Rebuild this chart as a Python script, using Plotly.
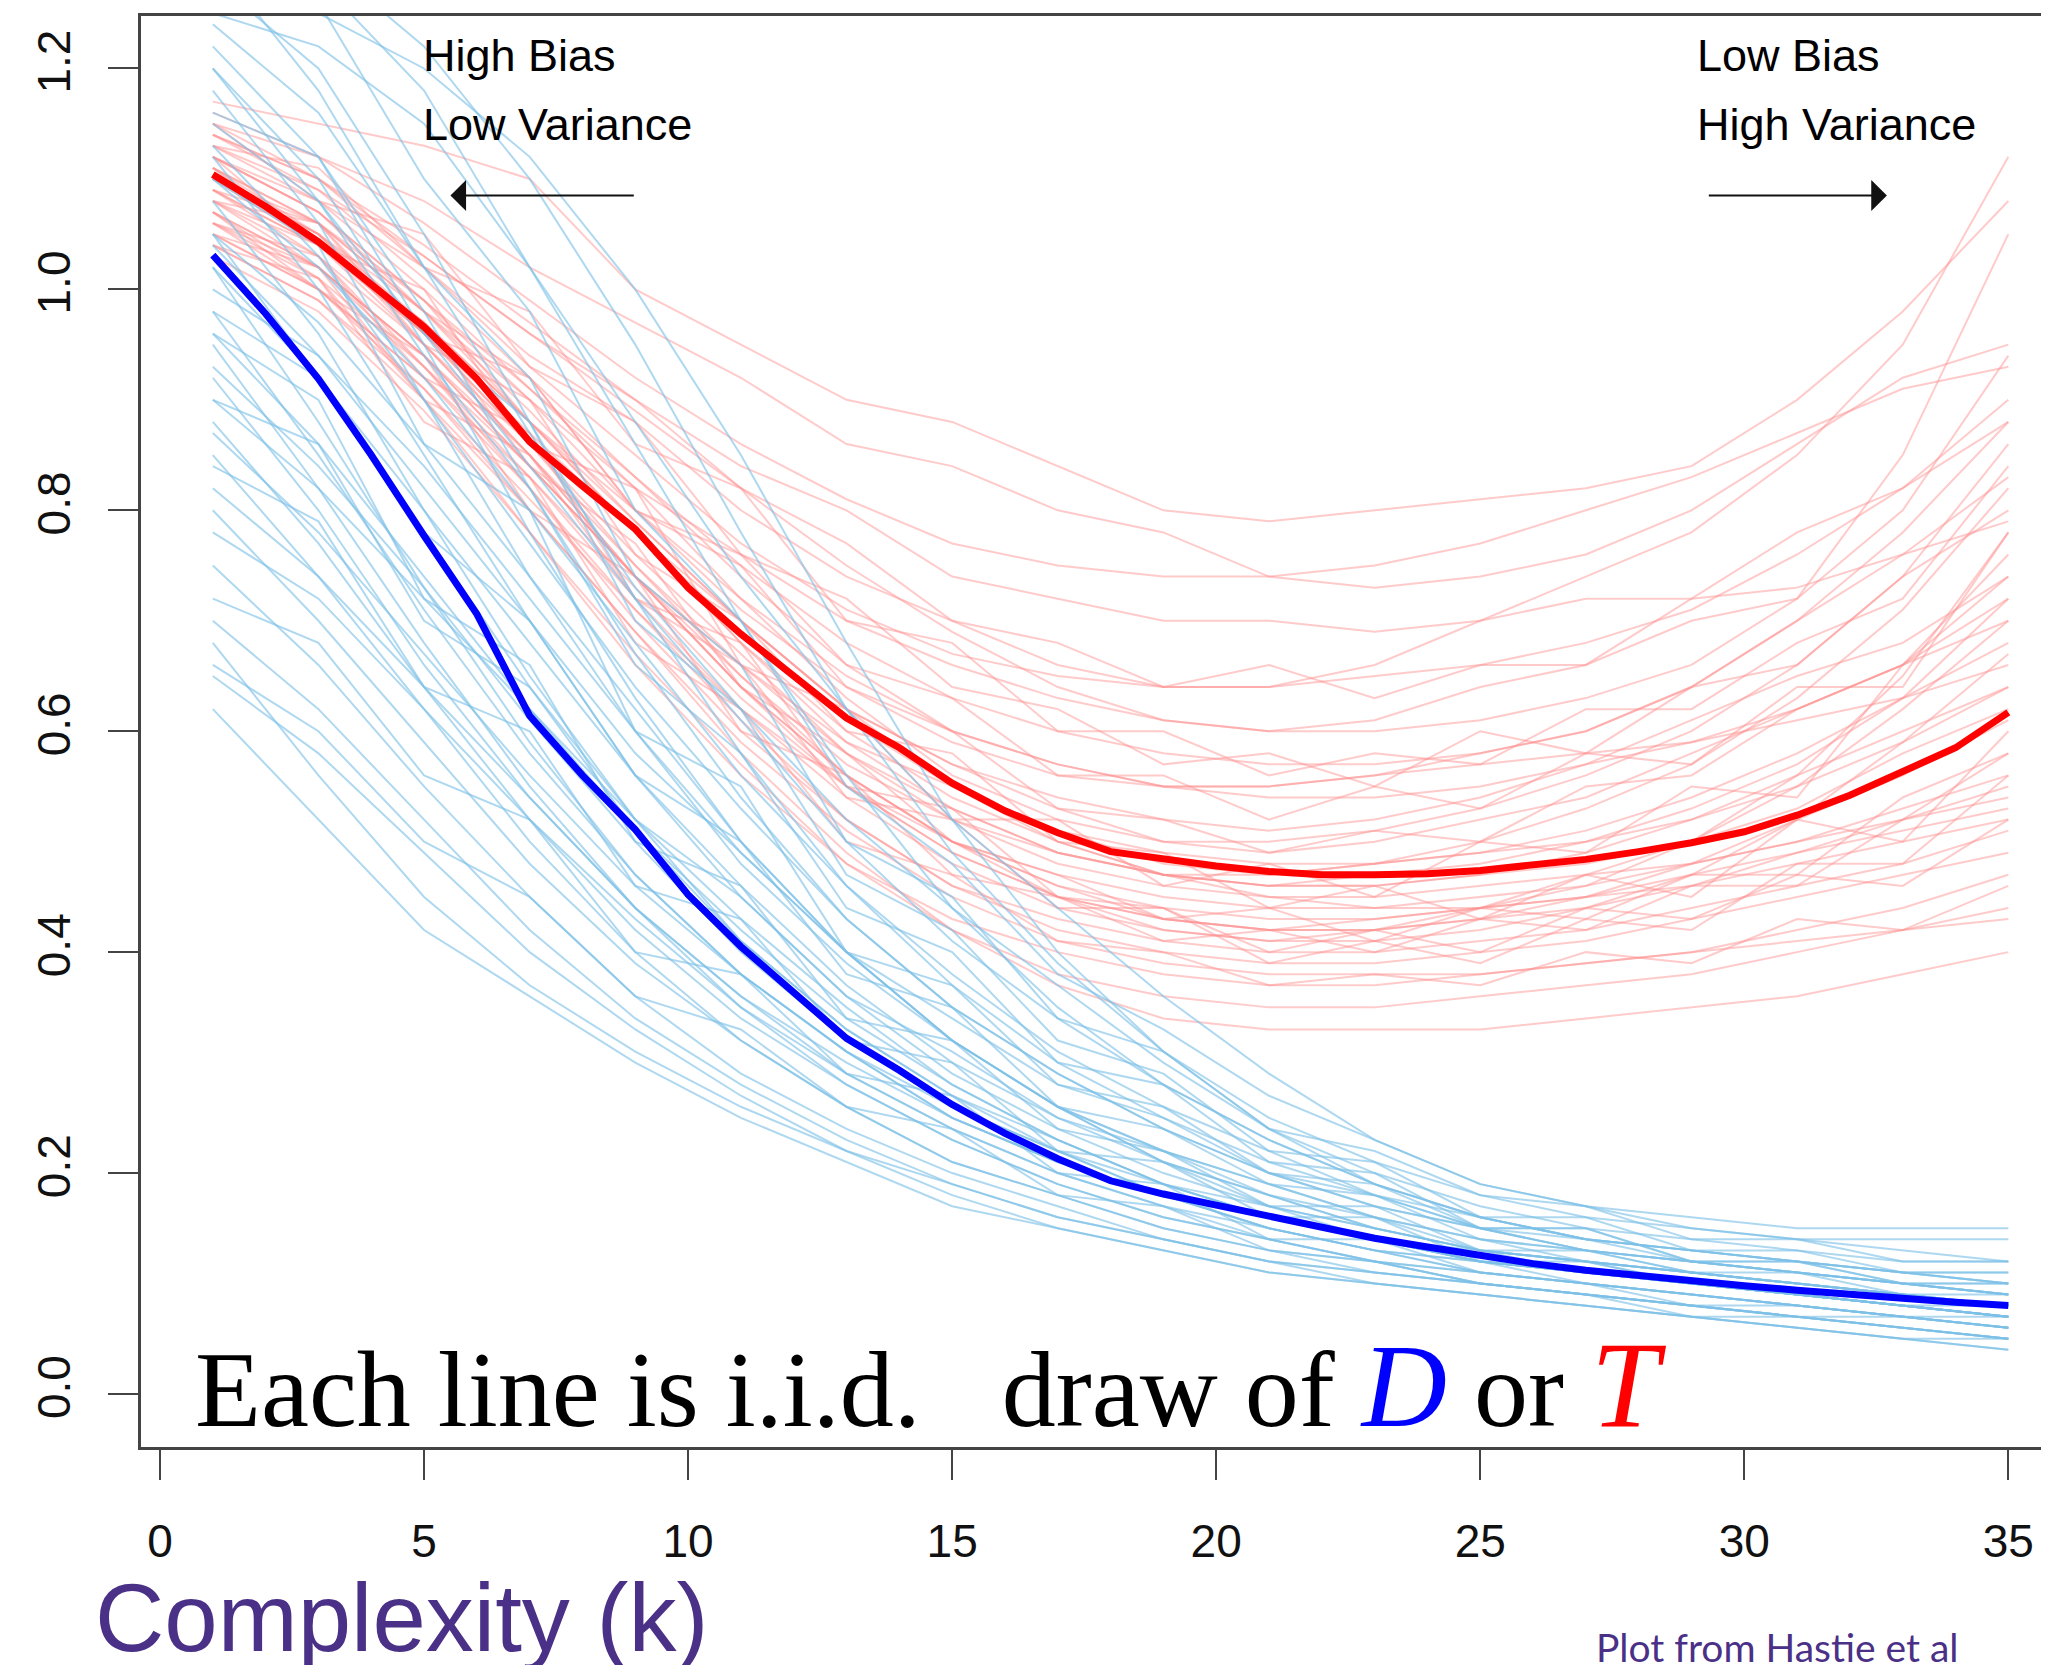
import plotly.graph_objects as go

# ---------------- data ----------------
k_all = list(range(1, 36))
k_grid = [1, 3, 5, 7, 9, 11, 13, 15, 17, 19, 21, 23, 25, 27, 29, 31, 33, 35]

test_mean = [1.104, 1.075, 1.043, 1.005, 0.966, 0.919, 0.862, 0.822, 0.783, 0.730,
             0.688, 0.650, 0.612, 0.585, 0.553, 0.528, 0.508, 0.491, 0.484, 0.478,
             0.473, 0.470, 0.470, 0.471, 0.474, 0.479, 0.484, 0.491, 0.499, 0.509,
             0.524, 0.542, 0.563, 0.585, 0.617]
train_mean = [1.031, 0.978, 0.919, 0.850, 0.777, 0.706, 0.614, 0.560, 0.511, 0.452,
              0.405, 0.364, 0.322, 0.293, 0.262, 0.236, 0.213, 0.193, 0.181, 0.171,
              0.161, 0.151, 0.141, 0.133, 0.125, 0.118, 0.112, 0.107, 0.102, 0.098,
              0.094, 0.090, 0.086, 0.083, 0.080]

test_draws = [
    [1.17, 1.15, 1.13, 1.10, 1.00, 0.95, 0.90, 0.88, 0.84, 0.80, 0.79, 0.80, 0.81, 0.82, 0.84, 0.90, 0.98, 1.08],
    [1.15, 1.12, 1.08, 1.02, 0.97, 0.92, 0.86, 0.84, 0.80, 0.78, 0.74, 0.73, 0.74, 0.76, 0.80, 0.86, 0.92, 0.95],
    [1.12, 1.08, 1.02, 0.94, 0.88, 0.80, 0.74, 0.70, 0.66, 0.64, 0.64, 0.66, 0.70, 0.74, 0.78, 0.85, 0.95, 1.12],
    [1.10, 1.06, 0.98, 0.90, 0.82, 0.76, 0.70, 0.66, 0.63, 0.61, 0.60, 0.61, 0.64, 0.66, 0.72, 0.78, 0.82, 0.88],
    [1.14, 1.10, 1.03, 0.96, 0.90, 0.84, 0.80, 0.74, 0.72, 0.70, 0.70, 0.69, 0.70, 0.72, 0.72, 0.73, 0.76, 0.79],
    [1.08, 1.04, 0.97, 0.88, 0.80, 0.72, 0.65, 0.60, 0.57, 0.55, 0.55, 0.56, 0.58, 0.60, 0.64, 0.70, 0.76, 0.83],
    [1.10, 1.05, 0.96, 0.86, 0.78, 0.70, 0.62, 0.57, 0.53, 0.50, 0.49, 0.50, 0.52, 0.54, 0.58, 0.62, 0.66, 0.72],
    [1.06, 1.02, 0.94, 0.84, 0.74, 0.66, 0.59, 0.55, 0.51, 0.48, 0.47, 0.48, 0.49, 0.50, 0.52, 0.55, 0.59, 0.64],
    [1.12, 1.07, 0.99, 0.88, 0.78, 0.68, 0.60, 0.54, 0.50, 0.47, 0.46, 0.46, 0.47, 0.48, 0.50, 0.53, 0.58, 0.62],
    [1.09, 1.03, 0.93, 0.82, 0.71, 0.62, 0.55, 0.50, 0.47, 0.45, 0.44, 0.44, 0.45, 0.46, 0.48, 0.50, 0.53, 0.56],
    [1.05, 1.00, 0.92, 0.82, 0.70, 0.60, 0.52, 0.46, 0.43, 0.41, 0.40, 0.40, 0.41, 0.42, 0.44, 0.46, 0.48, 0.51],
    [1.11, 1.05, 0.95, 0.85, 0.74, 0.64, 0.56, 0.50, 0.45, 0.42, 0.41, 0.42, 0.44, 0.47, 0.50, 0.55, 0.62, 0.70],
    [1.07, 1.01, 0.90, 0.78, 0.66, 0.56, 0.48, 0.43, 0.40, 0.38, 0.37, 0.37, 0.38, 0.39, 0.40, 0.42, 0.44, 0.47],
    [1.13, 1.08, 1.00, 0.91, 0.82, 0.72, 0.63, 0.56, 0.52, 0.50, 0.50, 0.51, 0.53, 0.56, 0.60, 0.66, 0.74, 0.80],
    [1.04, 0.99, 0.90, 0.80, 0.69, 0.58, 0.49, 0.42, 0.38, 0.36, 0.35, 0.35, 0.36, 0.37, 0.38, 0.40, 0.42, 0.44],
    [1.10, 1.04, 0.96, 0.87, 0.78, 0.69, 0.61, 0.55, 0.51, 0.49, 0.48, 0.48, 0.49, 0.51, 0.54, 0.58, 0.63, 0.68],
    [1.08, 1.03, 0.95, 0.86, 0.76, 0.67, 0.58, 0.52, 0.48, 0.46, 0.45, 0.45, 0.46, 0.47, 0.48, 0.50, 0.52, 0.54],
    [1.16, 1.12, 1.06, 0.99, 0.92, 0.86, 0.81, 0.77, 0.75, 0.74, 0.74, 0.75, 0.77, 0.80, 0.83, 0.87, 0.91, 0.93],
    [1.06, 1.00, 0.91, 0.80, 0.69, 0.59, 0.51, 0.45, 0.41, 0.39, 0.38, 0.38, 0.38, 0.39, 0.40, 0.41, 0.42, 0.43],
    [1.11, 1.06, 0.98, 0.89, 0.79, 0.70, 0.62, 0.57, 0.54, 0.52, 0.51, 0.52, 0.54, 0.57, 0.61, 0.65, 0.68, 0.74],
    [1.09, 1.04, 0.96, 0.86, 0.75, 0.65, 0.56, 0.50, 0.46, 0.43, 0.42, 0.42, 0.43, 0.44, 0.46, 0.49, 0.52, 0.58],
    [1.03, 0.98, 0.89, 0.78, 0.67, 0.57, 0.48, 0.42, 0.37, 0.34, 0.33, 0.33, 0.33, 0.34, 0.35, 0.36, 0.38, 0.40],
    [1.12, 1.07, 0.99, 0.90, 0.80, 0.71, 0.64, 0.59, 0.56, 0.55, 0.55, 0.56, 0.57, 0.58, 0.59, 0.61, 0.63, 0.66],
    [1.07, 1.02, 0.94, 0.85, 0.75, 0.66, 0.58, 0.53, 0.49, 0.47, 0.46, 0.47, 0.48, 0.50, 0.53, 0.57, 0.63, 0.72],
    [1.14, 1.09, 1.01, 0.92, 0.83, 0.74, 0.66, 0.60, 0.57, 0.55, 0.54, 0.54, 0.55, 0.57, 0.59, 0.62, 0.66, 0.70],
    [1.05, 1.00, 0.92, 0.83, 0.73, 0.63, 0.55, 0.49, 0.45, 0.43, 0.42, 0.43, 0.44, 0.46, 0.50, 0.56, 0.65, 0.78],
    [1.10, 1.05, 0.97, 0.88, 0.79, 0.70, 0.62, 0.55, 0.50, 0.47, 0.45, 0.44, 0.44, 0.45, 0.46, 0.48, 0.50, 0.52],
    [1.08, 1.02, 0.93, 0.83, 0.72, 0.62, 0.54, 0.48, 0.44, 0.42, 0.41, 0.41, 0.42, 0.44, 0.47, 0.52, 0.59, 0.67],
    [1.13, 1.09, 1.03, 0.96, 0.89, 0.82, 0.75, 0.69, 0.64, 0.61, 0.60, 0.60, 0.61, 0.63, 0.66, 0.72, 0.85, 1.05],
    [1.06, 1.01, 0.93, 0.84, 0.74, 0.64, 0.56, 0.50, 0.46, 0.44, 0.43, 0.43, 0.44, 0.45, 0.47, 0.49, 0.51, 0.53],
    [1.09, 1.04, 0.95, 0.85, 0.74, 0.64, 0.55, 0.49, 0.45, 0.43, 0.42, 0.42, 0.43, 0.45, 0.48, 0.52, 0.56, 0.61],
    [1.11, 1.06, 0.99, 0.91, 0.83, 0.75, 0.68, 0.63, 0.60, 0.58, 0.57, 0.57, 0.58, 0.60, 0.64, 0.70, 0.78, 0.88],
    [1.04, 0.99, 0.91, 0.81, 0.71, 0.61, 0.52, 0.46, 0.42, 0.40, 0.39, 0.39, 0.40, 0.41, 0.43, 0.45, 0.47, 0.49],
    [1.12, 1.07, 0.98, 0.88, 0.78, 0.68, 0.59, 0.53, 0.49, 0.47, 0.46, 0.46, 0.47, 0.49, 0.52, 0.56, 0.60, 0.64],
    [1.07, 1.02, 0.94, 0.84, 0.74, 0.65, 0.57, 0.52, 0.49, 0.47, 0.47, 0.48, 0.50, 0.53, 0.57, 0.63, 0.71, 0.82],
    [1.15, 1.10, 1.02, 0.93, 0.85, 0.77, 0.71, 0.67, 0.65, 0.64, 0.64, 0.65, 0.66, 0.68, 0.71, 0.76, 0.82, 0.90],
    [1.09, 1.06, 0.95, 0.90, 0.76, 0.70, 0.60, 0.58, 0.50, 0.49, 0.44, 0.46, 0.43, 0.47, 0.45, 0.52, 0.50, 0.60],
    [1.12, 1.04, 1.00, 0.86, 0.82, 0.66, 0.62, 0.52, 0.52, 0.46, 0.48, 0.45, 0.50, 0.49, 0.55, 0.54, 0.66, 0.74],
    [1.06, 1.03, 0.92, 0.87, 0.72, 0.68, 0.55, 0.53, 0.45, 0.44, 0.40, 0.42, 0.40, 0.44, 0.43, 0.47, 0.46, 0.52],
    [1.15, 1.08, 1.05, 0.93, 0.88, 0.76, 0.72, 0.64, 0.62, 0.57, 0.58, 0.55, 0.60, 0.58, 0.64, 0.66, 0.74, 0.86],
    [1.04, 1.01, 0.88, 0.83, 0.68, 0.62, 0.50, 0.47, 0.41, 0.40, 0.37, 0.38, 0.37, 0.40, 0.39, 0.43, 0.42, 0.46],
    [1.10, 1.05, 0.98, 0.92, 0.80, 0.75, 0.64, 0.60, 0.53, 0.52, 0.49, 0.51, 0.50, 0.55, 0.56, 0.62, 0.66, 0.76],
    [1.13, 1.11, 1.02, 0.98, 0.86, 0.82, 0.70, 0.68, 0.60, 0.60, 0.56, 0.58, 0.57, 0.62, 0.62, 0.68, 0.72, 0.84],
    [1.07, 1.00, 0.94, 0.80, 0.74, 0.60, 0.56, 0.47, 0.45, 0.41, 0.42, 0.40, 0.43, 0.42, 0.46, 0.46, 0.52, 0.55],
    [1.08, 1.06, 0.96, 0.92, 0.80, 0.76, 0.66, 0.63, 0.56, 0.56, 0.52, 0.55, 0.53, 0.58, 0.57, 0.64, 0.64, 0.78],
    [1.11, 1.04, 0.97, 0.84, 0.77, 0.64, 0.58, 0.50, 0.47, 0.43, 0.44, 0.41, 0.44, 0.43, 0.47, 0.47, 0.54, 0.58],
    [1.05, 1.02, 0.90, 0.85, 0.72, 0.66, 0.54, 0.52, 0.44, 0.44, 0.39, 0.41, 0.39, 0.43, 0.42, 0.48, 0.48, 0.56],
    [1.14, 1.10, 1.04, 0.97, 0.90, 0.82, 0.77, 0.70, 0.68, 0.64, 0.66, 0.63, 0.66, 0.66, 0.70, 0.72, 0.80, 0.94],
]

train_draws = [
    [1.32, 1.28, 1.18, 1.02, 0.86, 0.70, 0.56, 0.44, 0.35, 0.28, 0.23, 0.19, 0.16, 0.14, 0.13, 0.12, 0.11, 0.10],
    [1.28, 1.20, 1.05, 0.88, 0.72, 0.58, 0.46, 0.37, 0.30, 0.25, 0.21, 0.18, 0.16, 0.14, 0.13, 0.12, 0.11, 0.10],
    [1.22, 1.12, 0.98, 0.82, 0.67, 0.54, 0.43, 0.35, 0.29, 0.24, 0.20, 0.17, 0.15, 0.13, 0.12, 0.11, 0.10, 0.09],
    [1.18, 1.06, 0.90, 0.74, 0.60, 0.48, 0.39, 0.32, 0.26, 0.22, 0.19, 0.16, 0.14, 0.12, 0.11, 0.10, 0.09, 0.08],
    [1.12, 1.00, 0.85, 0.70, 0.56, 0.45, 0.36, 0.29, 0.24, 0.20, 0.17, 0.15, 0.13, 0.12, 0.11, 0.10, 0.09, 0.08],
    [1.08, 0.96, 0.80, 0.65, 0.52, 0.41, 0.33, 0.27, 0.22, 0.18, 0.16, 0.14, 0.12, 0.11, 0.10, 0.09, 0.08, 0.07],
    [1.05, 0.92, 0.78, 0.64, 0.51, 0.41, 0.33, 0.27, 0.23, 0.19, 0.17, 0.15, 0.13, 0.12, 0.11, 0.10, 0.09, 0.08],
    [1.02, 0.88, 0.73, 0.59, 0.47, 0.38, 0.31, 0.25, 0.21, 0.18, 0.15, 0.13, 0.12, 0.10, 0.09, 0.08, 0.07, 0.06],
    [0.98, 0.85, 0.71, 0.58, 0.47, 0.38, 0.31, 0.26, 0.22, 0.19, 0.16, 0.14, 0.13, 0.11, 0.10, 0.09, 0.08, 0.07],
    [0.95, 0.82, 0.68, 0.55, 0.44, 0.35, 0.28, 0.23, 0.19, 0.16, 0.14, 0.12, 0.10, 0.09, 0.08, 0.07, 0.06, 0.05],
    [0.92, 0.80, 0.66, 0.54, 0.44, 0.36, 0.29, 0.24, 0.20, 0.17, 0.15, 0.13, 0.11, 0.10, 0.09, 0.08, 0.07, 0.07],
    [0.88, 0.77, 0.64, 0.52, 0.42, 0.34, 0.28, 0.23, 0.19, 0.16, 0.14, 0.12, 0.11, 0.10, 0.09, 0.08, 0.07, 0.06],
    [0.85, 0.74, 0.62, 0.50, 0.40, 0.32, 0.26, 0.21, 0.18, 0.15, 0.13, 0.11, 0.10, 0.09, 0.08, 0.07, 0.06, 0.05],
    [0.80, 0.70, 0.59, 0.48, 0.39, 0.32, 0.26, 0.21, 0.18, 0.15, 0.13, 0.12, 0.10, 0.09, 0.08, 0.07, 0.07, 0.06],
    [0.75, 0.66, 0.55, 0.45, 0.36, 0.29, 0.24, 0.20, 0.17, 0.14, 0.12, 0.11, 0.10, 0.09, 0.08, 0.07, 0.06, 0.05],
    [0.70, 0.62, 0.52, 0.42, 0.34, 0.28, 0.23, 0.19, 0.16, 0.14, 0.12, 0.10, 0.09, 0.08, 0.07, 0.06, 0.05, 0.04],
    [0.65, 0.58, 0.49, 0.40, 0.33, 0.27, 0.22, 0.18, 0.15, 0.13, 0.11, 0.10, 0.09, 0.08, 0.07, 0.06, 0.05, 0.05],
    [0.62, 0.52, 0.42, 0.36, 0.30, 0.25, 0.21, 0.17, 0.15, 0.13, 0.11, 0.10, 0.09, 0.08, 0.07, 0.06, 0.05, 0.04],
    [1.35, 1.30, 1.22, 1.10, 0.95, 0.78, 0.62, 0.49, 0.39, 0.31, 0.25, 0.21, 0.18, 0.16, 0.15, 0.14, 0.14, 0.14],
    [1.25, 1.22, 1.15, 1.02, 0.88, 0.74, 0.62, 0.52, 0.44, 0.36, 0.29, 0.23, 0.19, 0.17, 0.16, 0.15, 0.15, 0.15],
    [1.30, 1.18, 1.02, 0.87, 0.73, 0.62, 0.52, 0.44, 0.37, 0.30, 0.24, 0.20, 0.17, 0.15, 0.14, 0.13, 0.12, 0.12],
    [1.15, 1.08, 0.96, 0.84, 0.72, 0.61, 0.50, 0.41, 0.34, 0.28, 0.23, 0.19, 0.16, 0.14, 0.13, 0.12, 0.11, 0.11],
    [1.10, 1.02, 0.92, 0.80, 0.68, 0.56, 0.46, 0.38, 0.31, 0.26, 0.22, 0.18, 0.15, 0.13, 0.12, 0.11, 0.10, 0.09],
    [1.00, 0.94, 0.84, 0.72, 0.60, 0.49, 0.40, 0.32, 0.26, 0.21, 0.17, 0.14, 0.12, 0.11, 0.10, 0.09, 0.08, 0.07],
    [0.96, 0.86, 0.74, 0.62, 0.51, 0.42, 0.34, 0.28, 0.23, 0.19, 0.16, 0.14, 0.12, 0.11, 0.10, 0.09, 0.08, 0.07],
    [0.90, 0.82, 0.72, 0.62, 0.52, 0.43, 0.35, 0.28, 0.23, 0.19, 0.16, 0.14, 0.12, 0.11, 0.10, 0.09, 0.08, 0.08],
    [1.20, 1.10, 0.95, 0.78, 0.63, 0.50, 0.40, 0.32, 0.26, 0.21, 0.18, 0.15, 0.13, 0.12, 0.11, 0.10, 0.09, 0.08],
    [1.05, 0.97, 0.86, 0.74, 0.62, 0.50, 0.40, 0.32, 0.26, 0.22, 0.19, 0.16, 0.14, 0.13, 0.12, 0.11, 0.10, 0.10],
    [0.87, 0.78, 0.67, 0.56, 0.46, 0.38, 0.31, 0.25, 0.21, 0.18, 0.15, 0.13, 0.11, 0.10, 0.09, 0.08, 0.07, 0.06],
    [0.78, 0.72, 0.62, 0.52, 0.43, 0.35, 0.29, 0.24, 0.20, 0.17, 0.14, 0.12, 0.11, 0.10, 0.09, 0.08, 0.07, 0.06],
    [1.28, 1.25, 1.20, 1.12, 1.00, 0.85, 0.68, 0.52, 0.40, 0.31, 0.24, 0.19, 0.16, 0.14, 0.13, 0.12, 0.11, 0.10],
    [0.68, 0.56, 0.45, 0.37, 0.31, 0.26, 0.22, 0.19, 0.16, 0.14, 0.12, 0.11, 0.10, 0.09, 0.08, 0.07, 0.06, 0.05],
    [1.13, 1.03, 0.90, 0.77, 0.64, 0.53, 0.43, 0.35, 0.29, 0.24, 0.20, 0.17, 0.15, 0.13, 0.12, 0.11, 0.10, 0.09],
    [0.93, 0.84, 0.73, 0.61, 0.50, 0.40, 0.32, 0.26, 0.22, 0.18, 0.15, 0.13, 0.12, 0.11, 0.10, 0.09, 0.08, 0.07],
    [1.02, 0.92, 0.80, 0.68, 0.56, 0.46, 0.37, 0.30, 0.25, 0.21, 0.18, 0.15, 0.13, 0.12, 0.11, 0.10, 0.09, 0.08],
    [0.82, 0.74, 0.64, 0.54, 0.44, 0.36, 0.30, 0.25, 0.21, 0.18, 0.16, 0.14, 0.12, 0.11, 0.10, 0.09, 0.08, 0.07],
    [1.10, 1.04, 0.86, 0.80, 0.60, 0.55, 0.40, 0.37, 0.28, 0.26, 0.20, 0.19, 0.15, 0.15, 0.12, 0.12, 0.10, 0.10],
    [0.96, 0.90, 0.72, 0.66, 0.50, 0.46, 0.34, 0.32, 0.24, 0.22, 0.17, 0.17, 0.13, 0.13, 0.11, 0.10, 0.09, 0.08],
    [1.24, 1.16, 1.02, 0.92, 0.74, 0.66, 0.50, 0.45, 0.34, 0.31, 0.24, 0.22, 0.18, 0.17, 0.14, 0.14, 0.12, 0.12],
    [0.84, 0.79, 0.64, 0.60, 0.46, 0.43, 0.32, 0.30, 0.22, 0.21, 0.16, 0.16, 0.12, 0.12, 0.10, 0.09, 0.08, 0.07],
    [1.16, 1.12, 0.96, 0.88, 0.70, 0.62, 0.47, 0.42, 0.32, 0.29, 0.22, 0.21, 0.16, 0.16, 0.13, 0.13, 0.11, 0.11],
    [0.72, 0.68, 0.56, 0.52, 0.40, 0.38, 0.29, 0.27, 0.20, 0.19, 0.14, 0.14, 0.11, 0.10, 0.08, 0.08, 0.07, 0.06],
    [1.04, 0.94, 0.82, 0.70, 0.58, 0.49, 0.40, 0.34, 0.28, 0.25, 0.20, 0.18, 0.15, 0.14, 0.12, 0.11, 0.10, 0.09],
    [0.90, 0.86, 0.70, 0.64, 0.52, 0.45, 0.36, 0.31, 0.25, 0.22, 0.18, 0.16, 0.13, 0.12, 0.10, 0.09, 0.08, 0.07],
    [1.30, 1.26, 1.10, 0.98, 0.80, 0.70, 0.55, 0.48, 0.38, 0.33, 0.27, 0.23, 0.19, 0.17, 0.15, 0.14, 0.13, 0.12],
    [0.66, 0.60, 0.50, 0.45, 0.36, 0.33, 0.26, 0.24, 0.18, 0.17, 0.13, 0.12, 0.10, 0.09, 0.07, 0.07, 0.06, 0.05],
    [1.20, 1.08, 0.94, 0.82, 0.66, 0.58, 0.44, 0.40, 0.30, 0.28, 0.21, 0.20, 0.15, 0.15, 0.12, 0.12, 0.10, 0.09],
    [0.98, 0.92, 0.78, 0.70, 0.56, 0.50, 0.38, 0.35, 0.26, 0.24, 0.19, 0.18, 0.14, 0.13, 0.11, 0.11, 0.09, 0.09],
]

x_ticks = [0, 5, 10, 15, 20, 25, 30, 35]
y_ticks = [0.0, 0.2, 0.4, 0.6, 0.8, 1.0, 1.2]
y_tick_text = ["0.0", "0.2", "0.4", "0.6", "0.8", "1.0", "1.2"]

# ---------------- figure ----------------
fig = go.Figure()

for d in test_draws:
    fig.add_trace(go.Scatter(x=k_grid, y=d, mode="lines",
                             line=dict(color="rgba(255,145,145,0.48)", width=2),
                             hoverinfo="skip", showlegend=False))
for d in train_draws:
    fig.add_trace(go.Scatter(x=k_grid, y=d, mode="lines",
                             line=dict(color="rgba(125,192,230,0.62)", width=2),
                             hoverinfo="skip", showlegend=False))

fig.add_trace(go.Scatter(x=k_all, y=test_mean, mode="lines",
                         line=dict(color="#ff0000", width=7), showlegend=False))
fig.add_trace(go.Scatter(x=k_all, y=train_mean, mode="lines",
                         line=dict(color="#0000ff", width=7), showlegend=False))

axis_font = dict(family="Liberation Sans, Arial, sans-serif", size=46, color="#111")

fig.update_xaxes(range=[-0.36, 35.77], tickvals=x_ticks, ticks="outside", ticklen=30,
                 tickwidth=2, tickcolor="#444", showline=True, linecolor="#444",
                 linewidth=2.5, mirror=True, showgrid=False, zeroline=False,
                 tickfont=axis_font, ticklabelstandoff=22)
fig.update_yaxes(range=[-0.048, 1.2475], tickvals=y_ticks, ticktext=y_tick_text,
                 ticks="outside", ticklen=30, tickwidth=2, tickcolor="#444",
                 showline=True, linecolor="#444", linewidth=2.5, mirror=False,
                 showgrid=False, zeroline=False, tickangle=-90, tickfont=axis_font,
                 ticklabelstandoff=20)

label_font = dict(family="Liberation Sans, Arial, sans-serif", size=45, color="#000")
annotations = [
    dict(x=4.95, y=1.212, xref="x", yref="y", text="High Bias", showarrow=False,
         xanchor="left", yanchor="middle", font=label_font),
    dict(x=4.95, y=1.149, xref="x", yref="y", text="Low Variance", showarrow=False,
         xanchor="left", yanchor="middle", font=label_font),
    dict(x=29.06, y=1.212, xref="x", yref="y", text="Low Bias", showarrow=False,
         xanchor="left", yanchor="middle", font=label_font),
    dict(x=29.06, y=1.149, xref="x", yref="y", text="High Variance", showarrow=False,
         xanchor="left", yanchor="middle", font=label_font),
    dict(x=5.5, y=1.085, ax=9.0, ay=1.085, xref="x", yref="y", axref="x", ayref="y",
         text="", showarrow=True, arrowhead=1, arrowsize=2.6, arrowwidth=2,
         arrowcolor="#111", standoff=0),
    dict(x=32.7, y=1.085, ax=29.3, ay=1.085, xref="x", yref="y", axref="x", ayref="y",
         text="", showarrow=True, arrowhead=1, arrowsize=2.6, arrowwidth=2,
         arrowcolor="#111", standoff=0),
    dict(x=0.63, y=0.009, xref="x", yref="y",
         text="Each line is i.i.d.   draw of "
              "<span style='color:#0000ff;font-size:118px'><i>D</i></span> or "
              "<span style='color:#ff0000;font-size:122px'><i>T</i></span>",
         showarrow=False, xanchor="left", yanchor="middle",
         font=dict(family="Liberation Serif, Times New Roman, serif", size=108, color="#000")),
    dict(x=-0.025, y=-0.119, xref="paper", yref="paper", text="Complexity (k)",
         showarrow=False, xanchor="left", yanchor="middle",
         font=dict(family="Liberation Sans, Arial, sans-serif", size=96, color="#4a3086")),
    dict(x=0.7615, y=-0.1398, xref="paper", yref="paper", text="Plot from Hastie et al",
         showarrow=False, xanchor="left", yanchor="middle",
         font=dict(family="Lato, Noto Sans, sans-serif", size=39, color="#4a3086")),
]

fig.update_layout(width=2041, height=1657, margin=dict(l=133, r=0, t=8, b=218),
                  paper_bgcolor="white", plot_bgcolor="white",
                  annotations=annotations, showlegend=False)

fig.write_html("out.html")
